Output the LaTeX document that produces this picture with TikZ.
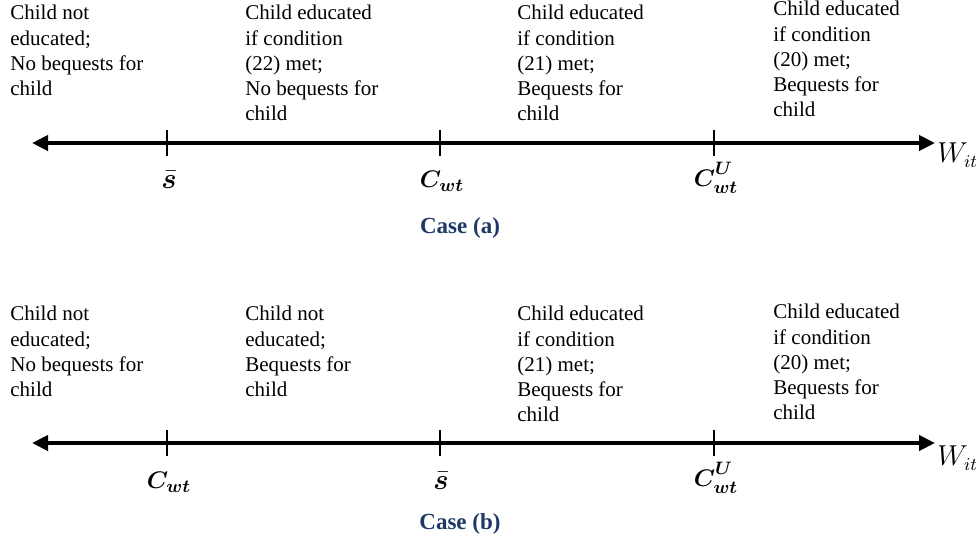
\documentclass[tikz,border=0pt]{standalone}
\usepackage{amsmath,amssymb,bm}
\usepackage{fontspec}
\setmainfont{Liberation Serif}
\usepackage{xcolor}
\usetikzlibrary{arrows.meta, positioning, calc}

\definecolor{casenavy}{RGB}{31,56,100}

\begin{document}
\begin{tikzpicture}[
    x=0.5pt, y=-0.5pt,
    info/.style={anchor=north west, inner sep=0pt, align=left, font=\fontsize{10.5}{12.6}\selectfont},
    axisline/.style={{Triangle[length=8pt, width=7.5pt]}-{Triangle[length=8pt, width=7.5pt]}, line width=2pt},
    tickline/.style={line width=0.8pt},
    lbl/.style={inner sep=0pt, font=\fontsize{13}{15}\selectfont},
    casetitle/.style={inner sep=0pt, text=casenavy, font=\bfseries\fontsize{11.5}{13}\selectfont},
]
\useasboundingbox (0,0) rectangle (979,548);

% Case (a): regions
\node[info] (a1) at (10,5) {Child not\\educated;\\No bequests for\\child};
\node[info] (a2) at (245,5) {Child educated\\if condition\\(22) met;\\No bequests for\\child};
\node[info] (a3) at (517,5) {Child educated\\if condition\\(21) met;\\Bequests for\\child};
\node[info] (a4) at (773,1) {Child educated\\if condition\\(20) met;\\Bequests for\\child};

% Case (a): axis and thresholds
\coordinate (aL) at (32,143);
\coordinate (aR) at (935,143);
\draw[axisline] (aL) -- (aR);
\coordinate (aT1) at (167,143);
\coordinate (aT2) at (440,143);
\coordinate (aT3) at (714,143);
\foreach \t in {aT1,aT2,aT3}
  \draw[tickline] ([yshift=6.5pt]\t) -- ([yshift=-6.5pt]\t);
\node[lbl, font=\fontsize{15.5}{17}\selectfont] (aS) at (169,180) {$\bar{\bm{s}}$};
\node[lbl] (aC) at (442,181) {$\bm{C_{wt}}$};
\node[lbl] (aCU) at (716,178) {$\bm{C}^{\raisebox{1.5pt}{$\scriptstyle\bm{U}$}}_{\bm{wt}}$};
\node[lbl, anchor=west, font=\fontsize{13.5}{16}\selectfont] (aW) at (937,155) {$W_{it}$};
\node[casetitle] (caseA) at (460,228) {Case (a)};

% Case (b): regions
\node[info] (b1) at (10,306) {Child not\\educated;\\No bequests for\\child};
\node[info] (b2) at (245,306) {Child not\\educated;\\Bequests for\\child};
\node[info] (b3) at (517,306) {Child educated\\if condition\\(21) met;\\Bequests for\\child};
\node[info] (b4) at (773,304) {Child educated\\if condition\\(20) met;\\Bequests for\\child};

% Case (b): axis and thresholds
\coordinate (bL) at (32,443);
\coordinate (bR) at (935,443);
\draw[axisline] (bL) -- (bR);
\coordinate (bT1) at (167,443);
\coordinate (bT2) at (440,443);
\coordinate (bT3) at (714,443);
\foreach \t in {bT1,bT2,bT3}
  \draw[tickline] ([yshift=6.5pt]\t) -- ([yshift=-6.5pt]\t);
\node[lbl] (bC) at (169,482) {$\bm{C_{wt}}$};
\node[lbl, font=\fontsize{15.5}{17}\selectfont] (bS) at (441,481) {$\bar{\bm{s}}$};
\node[lbl] (bCU) at (716,478) {$\bm{C}^{\raisebox{1.5pt}{$\scriptstyle\bm{U}$}}_{\bm{wt}}$};
\node[lbl, anchor=west, font=\fontsize{13.5}{16}\selectfont] (bW) at (937,458) {$W_{it}$};
\node[casetitle] (caseB) at (460,524) {Case (b)};

\end{tikzpicture}
\end{document}
